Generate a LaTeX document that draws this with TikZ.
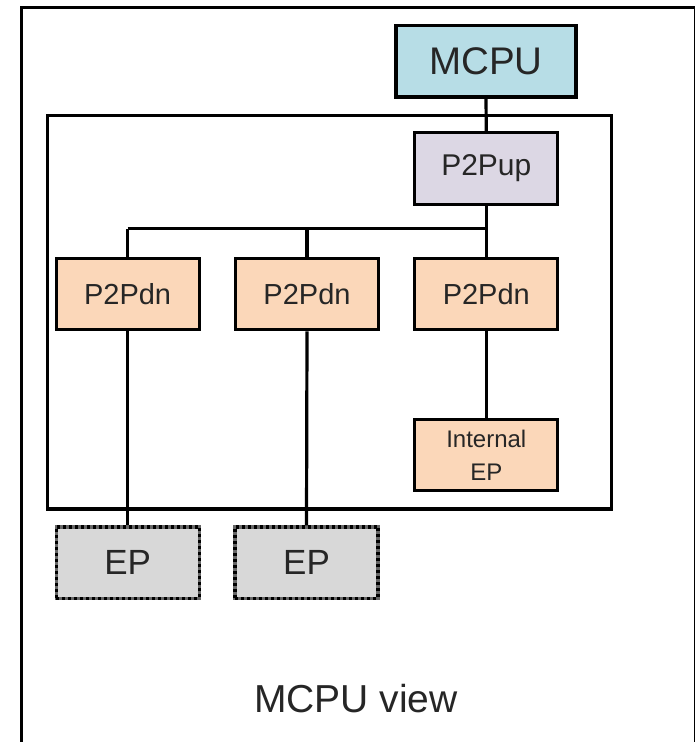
\documentclass[tikz,border=0pt]{standalone}
\usepackage{fontspec}
\setmainfont{Liberation Sans}
\definecolor{mcpufill}{HTML}{B7DDE6}
\definecolor{upfill}{HTML}{DCD7E4}
\definecolor{dnfill}{HTML}{FBD7B9}
\definecolor{epfill}{HTML}{D8D8D8}
\definecolor{txt}{HTML}{262626}
\tikzset{
  wire/.style={line width=3.2pt},
  blk/.style={draw=black, line width=3.2pt, inner sep=0pt, text=txt,
    minimum width=143pt, minimum height=71.5pt},
  cpubox/.style={blk, fill=mcpufill, minimum width=180pt,
    font=\fontsize{38.5}{40}\selectfont},
  upbox/.style={blk, fill=upfill, font=\fontsize{30}{32}\selectfont},
  dnbox/.style={blk, fill=dnfill, font=\fontsize{29}{31}\selectfont},
  smallbox/.style={blk, fill=dnfill, align=center,
    font=\fontsize{24}{33}\selectfont},
  extbox/.style={blk, draw=gray!80!black, fill=epfill,
    font=\fontsize{35}{37}\selectfont,
    postaction={draw=black, line width=3.2pt, dash pattern=on 3pt off 3pt}},
}
\begin{document}
\begin{tikzpicture}[x=1pt, y=-1pt]
  \useasboundingbox (0,0) rectangle (695,742);
  % outer frame (open at the bottom)
  \draw[wire] (21.5,760) -- (21.5,7.5) -- (695.6,7.5) -- (695.6,760);
  % inner frame
  \draw[wire] (47.5,115.8) rectangle (611.5,509);

  % blocks
  \node[cpubox] (mcpu) at (486,61.3) {MCPU};
  \node[upbox] (up) at (486.3,168.4) {P2Pup};
  \node[dnbox] (dn1) at (127.6,294) {P2Pdn};
  \node[dnbox] (dn2) at (307,294) {P2Pdn};
  \node[dnbox] (dn3) at (486.3,294) {P2Pdn};
  \node[smallbox] (iep) at (486.3,455) {Internal\\EP};
  \node[extbox] (ep1) at (127.6,562.7) {EP};
  \node[extbox] (ep2) at (306.5,562.7) {EP};

  % connections
  \coordinate (bus) at (486.3,228.5);
  \draw[wire] (mcpu.south) -- (up.north);
  \draw[wire] (up.south) -- (bus);
  \draw[wire] (bus -| dn1.north) -- (bus);
  \draw[wire] (bus -| dn1.north) -- (dn1.north);
  \draw[wire] (bus -| dn2.north) -- (dn2.north);
  \draw[wire] (bus) -- (dn3.north);
  \draw[wire] (dn1.south) -- (ep1.north);
  \draw[wire] (dn2.south) -- (ep2.north);
  \draw[wire] (dn3.south) -- (iep.north);

  % caption
  \node[anchor=base, text=txt, inner sep=0pt, font=\fontsize{39}{41}\selectfont]
    (view) at (356,712) {MCPU view};
\end{tikzpicture}
\end{document}
